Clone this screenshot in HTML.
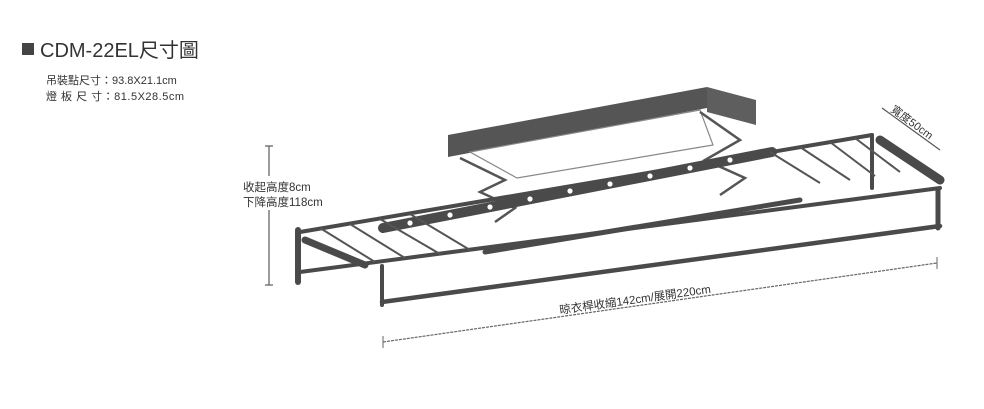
<!DOCTYPE html>
<html><head><meta charset="utf-8"><style>
html,body{margin:0;padding:0;background:#fff;width:984px;height:409px;overflow:hidden}
svg{display:block}
text{font-family:"Liberation Sans","Noto Sans CJK TC",sans-serif;fill:#333}
</style></head><body>
<svg width="984" height="409" viewBox="0 0 984 409">
<rect x="22" y="43" width="12" height="12" fill="#444"/>
<text x="40" y="57" font-size="20" fill="#3a3a3a">CDM-22EL尺寸圖</text>
<text x="46" y="84" font-size="11">吊裝點尺寸：93.8X21.1cm</text>
<text x="46" y="100" font-size="11" letter-spacing="0.5">燈 板 尺 寸：81.5X28.5cm</text>

<g stroke="#666" stroke-width="1.3">
<line x1="269" y1="146" x2="269" y2="176"/><line x1="269" y1="210" x2="269" y2="285"/>
<line x1="265" y1="146" x2="273" y2="146"/><line x1="265" y1="285" x2="273" y2="285"/>
</g>
<text x="243" y="191" font-size="11.5">收起高度8cm</text>
<text x="243" y="206" font-size="11.5">下降高度118cm</text>

<polygon points="448,135 707,87 707,108 448,157" fill="#555"/>
<polygon points="707,87 756,100 756,125 707,112" fill="#5e5e5e"/>
<polygon points="470,152 700,110 713,145 517,178" fill="#fff" stroke="#888" stroke-width="1.2"/>
<g stroke="#555" stroke-width="2.5" fill="none">
<polyline points="460,158 505,180 480,192 515,208 495,222"/>
<polyline points="700,112 740,140 705,160 745,178 720,195"/>
</g>

<g stroke="#4a4a4a" stroke-linecap="round" fill="none">
<line x1="300" y1="232" x2="872" y2="135" stroke-width="4"/>
<line x1="300" y1="272" x2="940" y2="188" stroke-width="4"/>
<line x1="382" y1="302" x2="940" y2="226" stroke-width="4.5"/>
<line x1="298" y1="230" x2="298" y2="282" stroke-width="6"/>
<line x1="382" y1="266" x2="382" y2="305" stroke-width="4"/>
<line x1="938" y1="190" x2="938" y2="228" stroke-width="5"/>
<line x1="872" y1="135" x2="872" y2="188" stroke-width="4"/>
<line x1="383" y1="228" x2="772" y2="152" stroke-width="10"/>
<line x1="485" y1="252" x2="800" y2="200" stroke-width="5"/>
<line x1="305" y1="240" x2="365" y2="265" stroke-width="7"/>
<line x1="880" y1="140" x2="940" y2="180" stroke-width="9"/>
</g>
<g stroke="#555" stroke-width="2">
<line x1="320" y1="228" x2="375" y2="262"/>
<line x1="350" y1="224" x2="405" y2="258"/>
<line x1="380" y1="219" x2="440" y2="254"/>
<line x1="410" y1="214" x2="470" y2="250"/>
<line x1="770" y1="152" x2="820" y2="183"/>
<line x1="800" y1="147" x2="850" y2="180"/>
<line x1="830" y1="142" x2="875" y2="176"/>
<line x1="855" y1="138" x2="900" y2="172"/>
</g>
<g fill="#fff">
<circle cx="410" cy="223" r="2.6"/><circle cx="450" cy="215" r="2.6"/><circle cx="490" cy="207" r="2.6"/><circle cx="530" cy="199" r="2.6"/><circle cx="570" cy="191" r="2.6"/><circle cx="610" cy="184" r="2.6"/><circle cx="650" cy="176" r="2.6"/><circle cx="690" cy="168" r="2.6"/><circle cx="730" cy="160" r="2.6"/>
</g>

<line x1="383" y1="342" x2="937" y2="263" stroke="#666" stroke-width="1.2" stroke-dasharray="3,1"/>
<line x1="383" y1="336" x2="383" y2="348" stroke="#666"/><line x1="937" y1="257" x2="937" y2="269" stroke="#666"/>
<text x="560" y="314" font-size="11.5" transform="rotate(-8 560 314)">晾衣桿收縮142cm/展開220cm</text>

<line x1="882" y1="108" x2="940" y2="150" stroke="#555" stroke-width="1.2"/>
<text x="890" y="111" font-size="11" transform="rotate(36 890 111)">寬度50cm</text>
</svg>
</body></html>
